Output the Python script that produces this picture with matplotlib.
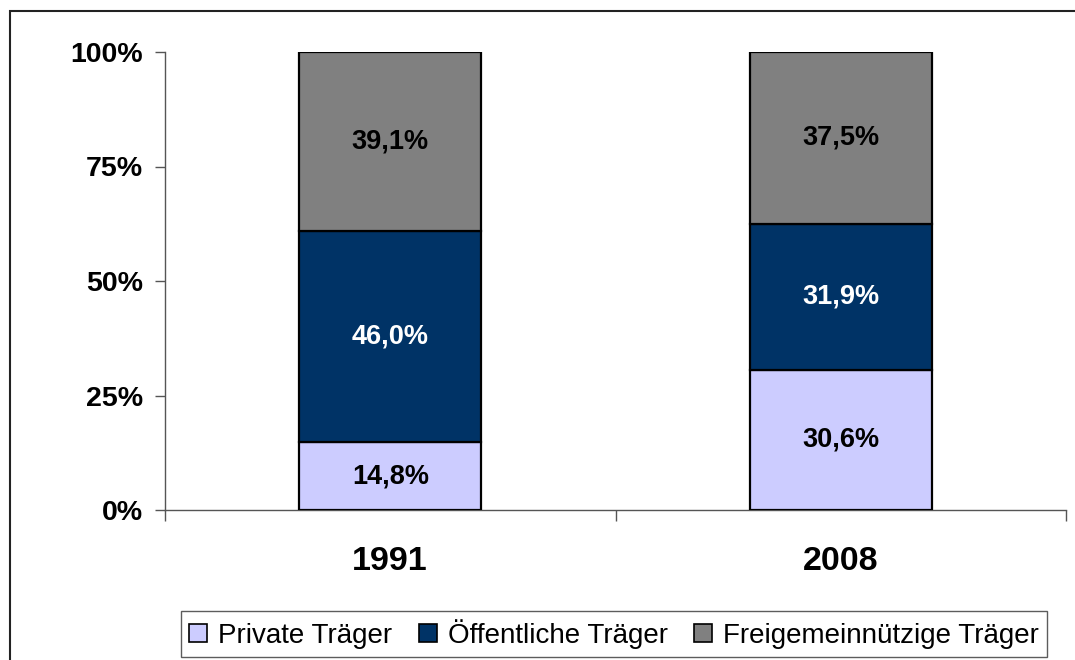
import numpy as np
import matplotlib.pyplot as plt
from matplotlib.patches import Rectangle

# Data
years = ['1991', '2008']
series = ['Private Träger', 'Öffentliche Träger', 'Freigemeinnützige Träger']
private = [14.8, 30.6]
oeffentlich = [46.0, 31.9]
freigemein = [39.1, 37.5]
colors = ['#CCCCFF', '#003366', '#808080']
text_colors = ['black', 'white', 'black']

plt.rcParams['font.family'] = ['Liberation Sans', 'DejaVu Sans']

fig = plt.figure(figsize=(10.75, 6.6), dpi=100)
ax = fig.add_axes([165 / 1075, 1 - 510 / 660, (1066 - 165) / 1075, (510 - 52) / 660])

vals = np.array([private, oeffentlich, freigemein])
shares = vals / vals.sum(axis=0) * 100  # 100% stacked, like Excel
x = np.arange(len(years))
bottom = np.zeros(len(years))
for i in range(len(series)):
    bars = ax.bar(x, shares[i], width=0.403, bottom=bottom, color=colors[i],
                  edgecolor='black', linewidth=1.6, label=series[i], zorder=3)
    for j, b in enumerate(bars):
        ax.text(b.get_x() + b.get_width() / 2, bottom[j] + shares[i][j] / 2,
                ('%.1f%%' % vals[i][j]).replace('.', ','),
                ha='center', va='center', fontsize=19.5, fontweight='bold',
                color=text_colors[i], zorder=4)
    bottom += shares[i]

ax.set_xlim(-0.5, 1.5)
ax.set_ylim(0, 100)
ax.set_yticks([0, 25, 50, 75, 100])
ax.set_yticklabels(['0%', '25%', '50%', '75%', '100%'], fontsize=20.5, fontweight='bold')
ax.set_xticks(x)
ax.set_xticklabels(years, fontsize=24.5, fontweight='bold')
ax.set_xticks([-0.5, 0.5, 1.5], minor=True)
ax.tick_params(axis='x', which='major', length=0, pad=26)
ax.tick_params(axis='x', which='minor', length=8, width=1, color='#555555', direction='out')
ax.tick_params(axis='y', length=7, width=1, color='#555555', pad=9)

for s in ['top', 'right']:
    ax.spines[s].set_visible(False)
for s in ['left', 'bottom']:
    ax.spines[s].set_color('#555555')
    ax.spines[s].set_linewidth(1)

leg = ax.legend(loc='center', bbox_to_anchor=(614 / 1075, 1 - 634 / 660),
                bbox_transform=fig.transFigure, ncol=3, fontsize=20,
                frameon=True, fancybox=False, handlelength=0.65, handleheight=0.65,
                handletextpad=0.4, columnspacing=0.95, borderpad=0.3,
                borderaxespad=0)
leg.get_frame().set_edgecolor('#333333')
leg.get_frame().set_linewidth(1)
leg._legend_box.sep = 10
for h in leg.legend_handles:
    h.set_linewidth(1.2)

# outer chart border
fig.patches.append(Rectangle((10 / 1075, -0.1), 1.2, 1 - 11 / 660 + 0.1,
                             transform=fig.transFigure, fill=False,
                             edgecolor='#222222', linewidth=1.5))

fig.savefig('out.png', dpi=100)
